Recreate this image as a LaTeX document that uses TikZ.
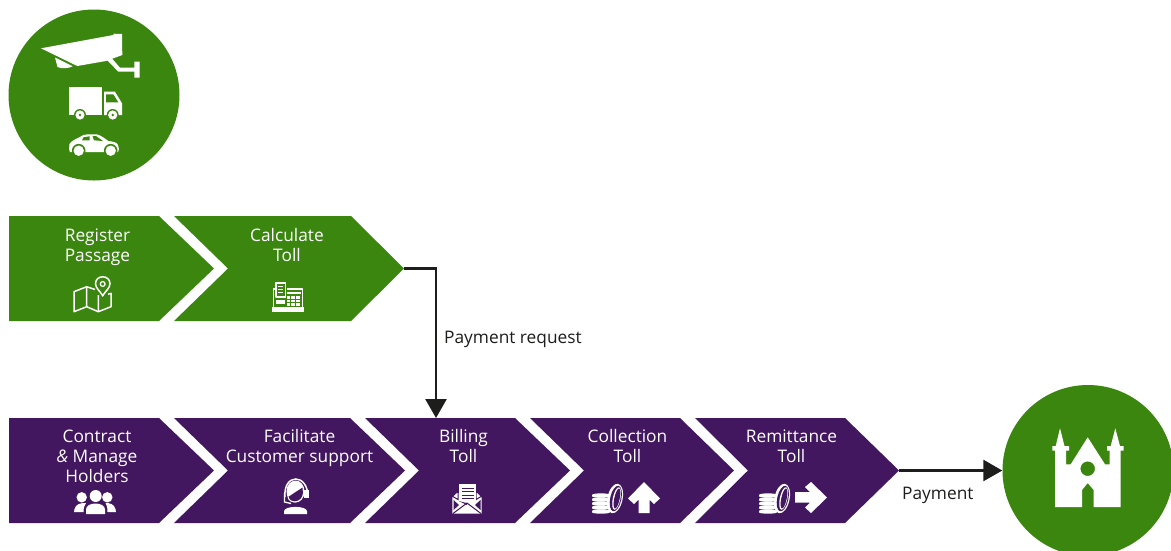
\documentclass[tikz,border=0pt]{standalone}
\usepackage{fontspec}
\setmainfont{Open Sans}
\usetikzlibrary{arrows.meta}
\definecolor{tollgreen}{HTML}{3B860F}
\definecolor{tollpurple}{HTML}{42175F}
\definecolor{inkdark}{HTML}{1D1D1B}
\newcommand{\st}[1]{#1\strut}
\tikzset{
  x=1pt,y=-1pt,
  stagetext/.style={text=white,align=center,font=\fontsize{17.3}{20}\selectfont,inner sep=0pt},
  flowlabel/.style={text=inkdark,font=\fontsize{17.3}{20}\selectfont,inner sep=0pt},
  flowline/.style={draw=inkdark,line width=2.6pt,-{Triangle[length=19pt,width=21pt]}},
  icoline/.style={draw=white,line width=1.5pt,fill=none,line join=round},
  coinsicon/.pic={
    \foreach \yy in {2,6,10,14,18}{
      \fill[white] (0,\yy) .. controls (0,\yy-2.2) and (18,\yy-2.2) .. (18,\yy) -- (18,\yy+1.2) .. controls (18,\yy+3.2) and (0,\yy+3.2) .. (0,\yy+1.2) -- cycle;
    }
    \fill[white,rotate around={-12:(23,5.5)}] (23,5.5) ellipse (7.6 and 15);
    \fill[tollpurple,rotate around={-12:(23.8,5.5)}] (23.8,5.5) ellipse (5.6 and 13);
    \fill[white,rotate around={-12:(24.6,5.5)}] (24.6,5.5) ellipse (3.8 and 11.5);
    \fill[tollpurple,rotate around={-12:(25,5.5)}] (25,5.5) ellipse (2.7 and 10.2);
  }
}
\begin{document}
\begin{tikzpicture}
\useasboundingbox (0,0) rectangle (1171,550);
\fill[white] (0,0) rectangle (1171,550);
% circles
\node[circle,fill=tollgreen,minimum size=171pt,inner sep=0pt] (source) at (94,95) {};
\begin{scope}
\clip (0,0) rectangle (1171,550);
\node[circle,fill=tollgreen,minimum size=171pt,inner sep=0pt] (city) at (1088,470.5) {};
\end{scope}
% camera
\fill[white] (41,48.3) -- (113.3,35) -- (114,33.7) -- (122,34) -- (122.3,55) -- (106,61) -- (77.3,66) -- cycle;
\fill[white] (55,57.5) -- (72.7,66.3) .. controls (68,68.5) and (62,69) .. (57.5,67) -- cycle;
\fill[white] (112,58.5) -- (120,67.7) -- (134.3,67.7) -- (134.3,61.7) -- (139.7,61.7) -- (139.7,77.7) -- (134.3,77.7) -- (134.3,71.7) -- (118.3,71.7) -- (107,60) -- cycle;
% truck
\fill[white] (69.3,87) rectangle (101.7,115);
\fill[white] (104,91.7) -- (115,91.7) -- (122,103.3) -- (122,115) -- (104,115) -- cycle;
\fill[tollgreen] (106,94.3) -- (113.3,94.3) -- (118.3,102.3) -- (106,102.3) -- cycle;
\foreach \wx in {80,112.7}{
  \fill[tollgreen] (\wx,115) circle (6);
  \fill[white] (\wx,115) circle (4.6);
  \fill[tollgreen] (\wx,115) circle (1.4);
}
% car
\fill[white] (69,149) -- (69.5,144) .. controls (71,141) and (76,139) .. (79.3,137.3) .. controls (82,135) and (85,134.3) .. (88,134.3) -- (97,134.3) .. controls (101,135.5) and (105,138.5) .. (108.3,141) .. controls (112,141.5) and (117,142) .. (118,145) -- (119,149) -- (118,152) -- (70,152) -- cycle;
\fill[tollgreen] (82,140.3) -- (83.5,137.3) -- (89.5,136.3) -- (89.5,140.3) -- cycle;
\fill[tollgreen] (92.5,136) -- (96,136) -- (103,141) -- (94,140.3) -- cycle;
\foreach \wx in {78.7,110.7}{
  \fill[tollgreen] (\wx,150.7) circle (6.8);
  \fill[white] (\wx,150.7) circle (5.2);
}
% green chevrons
\fill[tollgreen] (9,216) -- (159,216) -- (214,268.5) -- (159,321) -- (9,321) -- cycle;
\fill[tollgreen] (174,216) -- (351,216) -- (404,268.5) -- (351,321) -- (174,321) -- (228,268.5) -- cycle;
\coordinate (calctip) at (404,268.5);
% purple chevrons
\fill[tollpurple] (9,418) -- (159,418) -- (214,470.5) -- (159,523) -- (9,523) -- cycle;
\fill[tollpurple] (174,418) -- (350,418) -- (405,470.5) -- (350,523) -- (174,523) -- (228,470.5) -- cycle;
\fill[tollpurple] (365,418) -- (515,418) -- (570,470.5) -- (515,523) -- (365,523) -- (419,470.5) -- cycle;
\fill[tollpurple] (530,418) -- (680,418) -- (734,470.5) -- (680,523) -- (530,523) -- (584,470.5) -- cycle;
\fill[tollpurple] (695,418) -- (845,418) -- (899,470.5) -- (845,523) -- (695,523) -- (748,470.5) -- cycle;
\coordinate (billtop) at (436,418);
\coordinate (remtip) at (899,470.5);
% texts
\node[stagetext] (register) at (97.5,247.5) {\st{Register}\\\st{Passage}};
\node[stagetext] (calculate) at (287,247.5) {\st{Calculate}\\\st{Toll}};
\node[stagetext] (contract) at (97,458.3) {\st{Contract}\\\st{\textit{\&} Manage}\\\st{Holders}};
\node[stagetext] (facilitate) at (299.5,448.3) {\st{Facilitate}\\\st{Customer support}};
\node[stagetext] (billing) at (463.5,448.3) {\st{Billing}\\\st{Toll}};
\node[stagetext] (collection) at (627.5,448.3) {\st{Collection}\\\st{Toll}};
\node[stagetext] (remittance) at (791.5,448.3) {\st{Remittance}\\\st{Toll}};
% connectors
\draw[flowline] (calctip) -| (billtop);
\draw[flowline] (remtip) -- (city.west);
\node[flowlabel,anchor=base west] (payreq) at (444,343) {Payment request};
\node[flowlabel,anchor=base west] (pay) at (902,499) {Payment};
% map icon
\draw[icoline] (86.7,286.7) -- (74,291.7) -- (74,311.7) -- (86.7,306.7) -- (98.3,311.7) -- (111,306.7) -- (111,293.3) -- (108,294.3);
\draw[icoline] (86.7,286.7) -- (86.7,306.7) (98.3,295) -- (98.3,311.7) (86.7,286.7) -- (95,289.5);
\path[draw=white,line width=1.5pt,fill=tollgreen] (102.7,295.7) .. controls (100,291) and (95.5,288) .. (95.5,283.7) .. controls (95.5,274.5) and (110,274.5) .. (110,283.7) .. controls (110,288) and (105.5,291) .. (102.7,295.7) -- cycle;
\draw[white,line width=1.2pt] (102.7,284) circle (2.4);
% register icon
\fill[white] (271.7,306.7) rectangle (304,311.7);
\draw[icoline,line width=1.3pt] (276,289) -- (273.3,289) -- (273.3,306.7) (287,289) -- (302.5,289) -- (302.5,306.7);
\draw[icoline,line width=1.3pt,fill=tollgreen] (276,283) rectangle (285.7,297);
\foreach \ly in {286,289,292}{\draw[white,line width=1pt] (278,\ly) -- (283,\ly);}
\fill[white] (287,291.5) rectangle (301,294);
\foreach \cx in {286.7,291.4,296.1}{\foreach \cy in {296.3,299.8,303.3}{\fill[white] (\cx,\cy) rectangle +(3.6,2.6);}}
\fill[white] (275.5,299.5) rectangle (284.5,304);
% people icon
\fill[white] (81.7,497.3) circle (5.2);
\fill[white] (95.7,496) circle (6);
\fill[white] (107.3,497.3) circle (5.2);
\fill[white] (74,512) -- (74.5,509) .. controls (76,504) and (80,503) .. (86,503) .. controls (84.5,505) and (83.5,508) .. (83.5,512) -- cycle;
\fill[white] (116,512) -- (115.5,509) .. controls (114,504) and (110,503) .. (105.5,503) .. controls (107,505) and (107.5,508) .. (107.5,512) -- cycle;
\fill[white] (86,514) -- (86,509.5) .. controls (86,501.5) and (105,501.5) .. (105,509.5) -- (105,514) -- cycle;
% headset icon
\draw[white,line width=1.5pt] (285,497) .. controls (283,473) and (308,473) .. (308,497);
\draw[white,line width=1.3pt] (284.5,493) -- (284.5,502) -- (291,503.5);
\fill[white] (304,490) rectangle (308.5,498);
\fill[white] (295.5,491.5) ellipse (9 and 11);
\fill[tollpurple] (288.2,497) -- (302.5,487.5) -- (303,494) .. controls (303,503) and (289.5,504) .. (288.2,497) -- cycle;
\draw[white,line width=1pt] (288,497) .. controls (289.5,504.5) and (303,503.5) .. (303.5,493);
\fill[white] (284,514) -- (284,511) .. controls (285,505.5) and (306,505.5) .. (307,511) -- (307,514) -- cycle;
% envelope icon
\fill[white] (452.3,497.5) -- (457,493) -- (477,493) -- (481.7,497.5) -- (481.7,513.5) -- (452.3,513.5) -- cycle;
\draw[tollpurple,line width=1pt] (458,490) -- (458,499.5) -- (452,496) (476,490) -- (476,499.5) -- (482,496);
\fill[tollpurple] (453.5,500) -- (459,505) -- (453.5,510) -- cycle;
\fill[tollpurple] (480.5,500) -- (475,505) -- (480.5,510) -- cycle;
\draw[tollpurple,line width=1pt] (453,513.5) -- (467,503) -- (481,513.5);
\fill[white] (459,484) rectangle (476,501);
\foreach \ly in {488,491.5,495,498.5}{\draw[tollpurple,line width=1pt] (461.5,\ly) -- (473.5,\ly);}
\fill[tollpurple] (459,501) -- (467,505) -- (467,503.2) -- (459,501) -- cycle;
% coins and arrows
\pic at (592,493) {coinsicon};
\pic at (759,493) {coinsicon};
\fill[white] (644,482) -- (660,498.5) -- (654,504) -- (649.5,499.5) -- (649.5,513) -- (638.5,513) -- (638.5,499.5) -- (634,504) -- (628,498.5) -- cycle;
\fill[white] (827,497.5) -- (811,513) -- (805,507.5) -- (810,502.5) -- (795,502.5) -- (795,492) -- (810,492) -- (805,487) -- (811,482) -- cycle;
% church
\fill[white,even odd rule] (1060,428.3) -- (1064.5,446) -- (1069,446) -- (1069,450.7) -- (1066,450.7) -- (1066,464.3) -- (1070.7,464.3) -- (1087.7,437.3) -- (1105,464.3) -- (1109.7,464.3) -- (1109.7,450.7) -- (1107,450.7) -- (1107,446) -- (1110.7,446) -- (1115.3,428.3) -- (1120,446) -- (1123.7,446) -- (1123.7,450.7) -- (1120.7,450.7) -- (1120.7,507) -- (1093.7,507) -- (1093.7,490) -- (1087.7,483) -- (1082,490) -- (1082,507) -- (1055,507) -- (1055,450.7) -- (1052.3,450.7) -- (1052.3,446) -- (1055.7,446) -- cycle (1087.7,468.7) circle (7.3);
\end{tikzpicture}
\end{document}
